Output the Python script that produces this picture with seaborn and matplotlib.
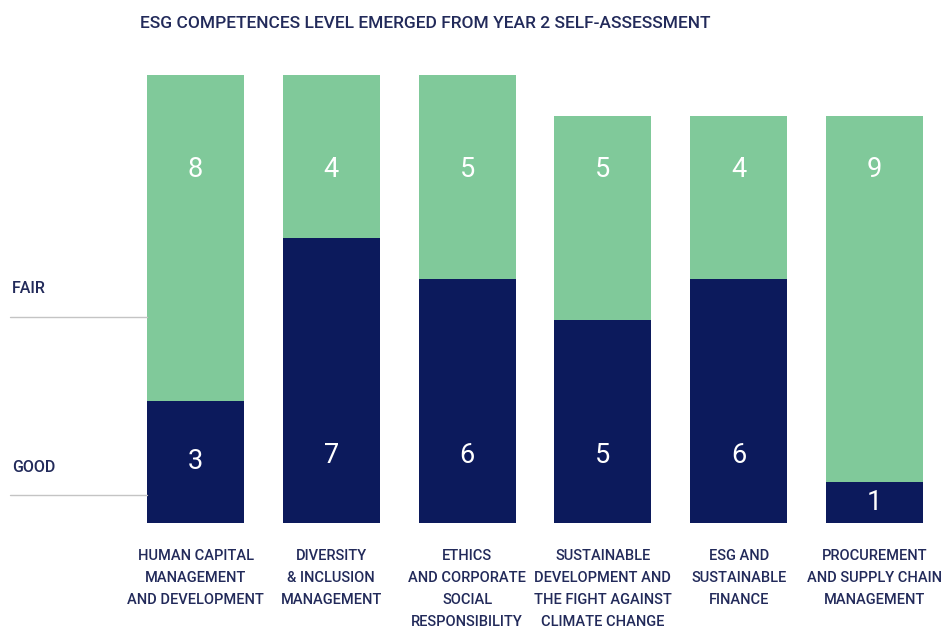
import matplotlib
matplotlib.use("Agg")
import matplotlib.pyplot as plt
import seaborn as sns
import pandas as pd

categories = [
    "HUMAN CAPITAL\nMANAGEMENT\nAND DEVELOPMENT",
    "DIVERSITY\n& INCLUSION\nMANAGEMENT",
    "ETHICS\nAND CORPORATE\nSOCIAL\nRESPONSIBILITY",
    "SUSTAINABLE\nDEVELOPMENT AND\nTHE FIGHT AGAINST\nCLIMATE CHANGE",
    "ESG AND\nSUSTAINABLE\nFINANCE",
    "PROCUREMENT\nAND SUPPLY CHAIN\nMANAGEMENT",
]
good = [3, 7, 6, 5, 6, 1]
fair = [8, 4, 5, 5, 4, 9]
level_labels = ["FAIR", "GOOD"]
title = "ESG COMPETENCES LEVEL EMERGED FROM YEAR 2 SELF-ASSESSMENT"

NAVY = "#0c1a5c"
GREEN = "#80c99a"
TEXT = "#222a5a"

sns.set_theme(style="white")
plt.rcParams["font.family"] = ["Roboto", "DejaVu Sans"]

df = pd.DataFrame({"cat": categories, "good": good, "fair": fair})
df["total"] = df["good"] + df["fair"]

W, H = 941, 626
fig = plt.figure(figsize=(W / 100, H / 100), dpi=100)
ax = fig.add_axes([0, 0, 1, 1])

sns.barplot(data=df, x="cat", y="total", color=GREEN, width=0.714,
            saturation=1, ax=ax, linewidth=0)
sns.barplot(data=df, x="cat", y="good", color=NAVY, width=0.714,
            saturation=1, ax=ax, linewidth=0)

# pixel mapping
px_per_cat = 135.8
x0 = 195.5
px_per_unit = 40.7
y0 = 523
ax.set_xlim(-x0 / px_per_cat, (W - x0) / px_per_cat)
ax.set_ylim(-(H - y0) / px_per_unit, y0 / px_per_unit)
ax.axis("off")

for i, (g, f) in enumerate(zip(good, fair)):
    ax.text(i, 8.68, str(f), color="white", ha="center", va="center", fontsize=19.5)
    ax.text(i, min(g / 2, 1.65), str(g), color="white", ha="center", va="center", fontsize=19.5)
    ax.text(i, -0.64, categories[i], color=TEXT, ha="center", va="top",
            fontsize=10.5, linespacing=1.72, fontweight="medium")

# level labels and reference lines
def ypix(p):
    return 1 - p / H

for lab, ty, ly in zip(level_labels, [289, 468], [317, 495]):
    fig.text(12 / W, ypix(ty), lab, color=TEXT, fontsize=11.5, ha="left", va="center",
             fontweight="medium")
    fig.add_artist(plt.Line2D([10 / W, 147 / W], [ypix(ly), ypix(ly)],
                              color="#c4c4c4", linewidth=1))

fig.text(140 / W, ypix(23), title, color=TEXT, fontsize=12.5, ha="left", va="center",
         fontweight="medium")

fig.savefig("out.png", dpi=100)
